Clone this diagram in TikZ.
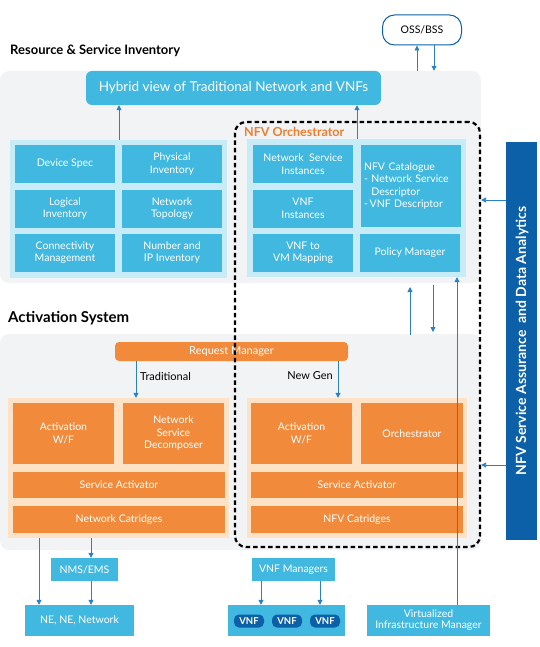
\documentclass[tikz,border=0pt]{standalone}
\usepackage{fontspec}
\setmainfont{Lato}
\usetikzlibrary{arrows.meta}
\definecolor{cyanc}{HTML}{41B8E0}
\definecolor{cyanl}{HTML}{C8EBF8}
\definecolor{orc}{HTML}{F28A3C}
\definecolor{orl}{HTML}{FDE2C6}
\definecolor{panel}{HTML}{F2F3F5}
\definecolor{arrb}{HTML}{2A80C6}
\definecolor{darkb}{HTML}{0C60A8}
\definecolor{nfvor}{HTML}{F07D2E}
\tikzset{
  cell/.style={fill=cyanc, text=white, inner sep=0pt, align=center, font=\fontsize{10.5}{12.5}\selectfont},
  ocell/.style={fill=orc, text=white, inner sep=0pt, align=center, font=\fontsize{10.5}{12.5}\selectfont},
  holder/.style={inner sep=0pt},
  arr/.style={draw=arrb, line width=0.8pt, -{Triangle[width=5pt,length=5pt]}},
  ttl/.style={font=\fontsize{13}{15}\bfseries\selectfont, anchor=west, inner sep=0pt},
  vnfpill/.style={fill=darkb, text=white, rounded corners=5pt, inner sep=0pt, minimum width=30pt, minimum height=13pt, font=\fontsize{9.5}{10}\bfseries\selectfont},
}
\begin{document}
\begin{tikzpicture}[x=1pt,y=-1pt]
\useasboundingbox (0,0) rectangle (540,647);
% panels
\node[holder, fill=panel, rounded corners=9pt, minimum width=481pt, minimum height=212pt] (p1) at (240.5,177) {};
\node[holder, fill=panel, rounded corners=9pt, minimum width=481pt, minimum height=216pt] (p2) at (240.5,442) {};
% titles
\node[ttl] (t1) at (10,51) {Resource \& Service Inventory};
\node[ttl, font=\fontsize{15}{17}\bfseries\selectfont] (t2) at (8,318) {Activation System};
% OSS/BSS
\node[holder, draw=darkb, line width=1pt, fill=white, rounded corners=12pt, minimum width=79pt, minimum height=30pt, font=\fontsize{10.5}{12}\selectfont] (oss) at (422,30) {OSS/BSS};
% Hybrid
\node[cell, rounded corners=6pt, minimum width=295pt, minimum height=34pt, font=\fontsize{13.5}{15}\selectfont] (hyb) at (233.5,88) {Hybrid view of Traditional Network and VNFs};
% inventory
\node[holder, fill=cyanl, minimum width=217pt, minimum height=138pt] (invL) at (118.5,209) {};
\node[cell, minimum width=100pt, minimum height=38pt] (ds) at (65,164) {Device Spec};
\node[cell, minimum width=100pt, minimum height=38pt] (pi) at (172,164) {Physical\\Inventory};
\node[cell, minimum width=100pt, minimum height=38pt] (li) at (65,208.5) {Logical\\Inventory};
\node[cell, minimum width=100pt, minimum height=38pt] (nt) at (172,208.5) {Network\\Topology};
\node[cell, minimum width=100pt, minimum height=38pt] (cm) at (65,252.5) {Connectivity\\Management};
\node[cell, minimum width=100pt, minimum height=38pt] (ni) at (172,252.5) {Number and\\IP Inventory};
% NFV orchestrator
\node[holder, fill=cyanl, minimum width=219pt, minimum height=138pt] (invR) at (356.5,208) {};
\node[cell, minimum width=100pt, minimum height=38pt] (nsi) at (303,164) {Network~~Service\\Instances};
\node[cell, minimum width=100pt, minimum height=38pt] (vi) at (303,208.5) {VNF\\Instances};
\node[cell, minimum width=100pt, minimum height=38pt] (vm) at (303,252.5) {VNF to\\VM Mapping};
\node[cell, minimum width=100pt, minimum height=82pt, align=left, text width=93pt] (cat) at (410.5,186) {NFV Catalogue\\- Network Service\\\phantom{-~}Descriptor\\-\,VNF Descriptor};
\node[cell, minimum width=100pt, minimum height=38pt] (pm) at (410,252.5) {Policy Manager};
\node[anchor=west, inner sep=0pt, text=nfvor, font=\fontsize{12.5}{14}\bfseries\selectfont] (nfvl) at (244,132) {NFV Orchestrator};
% Request manager
\node[ocell, rounded corners=4pt, minimum width=233pt, minimum height=19pt, font=\fontsize{11}{12}\selectfont] (rm) at (231.5,351.5) {Request Manager};
% activation left
\node[holder, fill=orl, minimum width=221pt, minimum height=140pt] (actL) at (118.5,468) {};
\node[ocell, minimum width=101pt, minimum height=61pt] (awl) at (63.5,433.5) {Activation\\W/F};
\node[ocell, minimum width=101pt, minimum height=61pt] (nsd) at (173.5,433.5) {Network\\Service\\Decomposer};
\node[ocell, minimum width=212pt, minimum height=26pt] (sal) at (119,485) {Service Activator};
\node[ocell, minimum width=212pt, minimum height=27pt] (ncl) at (119,519.5) {Network Catridges};
% activation right
\node[holder, fill=orl, minimum width=220pt, minimum height=140pt] (actR) at (357,468) {};
\node[ocell, minimum width=101pt, minimum height=61pt] (awr) at (301.5,433.5) {Activation\\W/F};
\node[ocell, minimum width=102pt, minimum height=61pt] (orch) at (412,433.5) {Orchestrator};
\node[ocell, minimum width=212pt, minimum height=26pt] (sar) at (357,485) {Service Activator};
\node[ocell, minimum width=212pt, minimum height=27pt] (ncr) at (357,519.5) {NFV Catridges};
% dashed NFV frame
\node[holder, draw=black, line width=2.2pt, dash pattern=on 4.5pt off 3pt, rounded corners=11pt, minimum width=245pt, minimum height=425pt] (dash) at (357.5,334.5) {};
% right bar
\node[holder, fill=darkb, minimum width=31pt, minimum height=398pt] (bar) at (521.5,341) {};
\node[rotate=90, text=white, inner sep=0pt, font=\fontsize{14}{16}\bfseries\selectfont] (bart) at (522,341) {NFV Service Assurance ~and Data Analytics};
% bottom
\node[cell, minimum width=67pt, minimum height=23pt] (nms) at (84.5,569.5) {NMS/EMS};
\node[cell, minimum width=109pt, minimum height=31pt] (ne) at (79.5,620.5) {NE, NE, Network};
\node[cell, minimum width=83pt, minimum height=23pt] (vnfm) at (293.5,569.5) {VNF Managers};
\node[cell, minimum width=117pt, minimum height=31pt] (vnfb) at (286.5,620.5) {};
\node[vnfpill] (v1) at (249,621) {VNF};
\node[vnfpill] (v2) at (287,621) {VNF};
\node[vnfpill] (v3) at (325,621) {VNF};
\node[cell, minimum width=123pt, minimum height=31pt, font=\fontsize{10.5}{11}\selectfont] (vim) at (428.5,620.5) {Virtualized\\Infrastructure Manager};
% labels
\node[anchor=west, inner sep=0pt, font=\fontsize{11}{12}\selectfont] (trl) at (140,376) {Traditional};
\node[anchor=east, inner sep=0pt, font=\fontsize{11}{12}\selectfont] (ngl) at (333,376) {New Gen};
% arrows
\draw[arr] (invL.north -| 119,0) -- (hyb.south -| 119,0);
\draw[arr] (invR.north -| 357,0) -- (hyb.south -| 357,0);
\draw[arr] (p1.north -| 417,0) -- (oss.south -| 417,0);
\draw[arr] (oss.south -| 434,0) -- (p1.north -| 434,0);
\draw[arr] (rm.south -| 136,0) -- (actL.north -| 136,0);
\draw[arr] (rm.south -| 338,0) -- (actR.north -| 338,0);
\coordinate (u1) at (410,335);
\coordinate (u2) at (410,287);
\coordinate (d1) at (433,285);
\coordinate (d2) at (433,332);
\draw[arr] (u1) -- (u2);
\draw[arr] (d1) -- (d2);
\draw[arr] (vim.north -| 457,0) -- (invR.south -| 457,0);
\draw[arr] (bar.west |- 0,200) -- (dash.east |- 0,200);
\draw[arr] (bar.west |- 0,465) -- (dash.east |- 0,465);
\draw[arr] (actL.south -| 39,0) -- (ne.north -| 39,0);
\draw[arr] (actL.south -| 91,0) -- (nms.north -| 91,0);
\draw[arr] (nms.south -| 91,0) -- (ne.north -| 91,0);
\draw[arr] (vnfm.south -| 261,0) -- (vnfb.north -| 261,0);
\draw[arr] (vnfm.south -| 320,0) -- (vnfb.north -| 320,0);
\end{tikzpicture}
\end{document}
